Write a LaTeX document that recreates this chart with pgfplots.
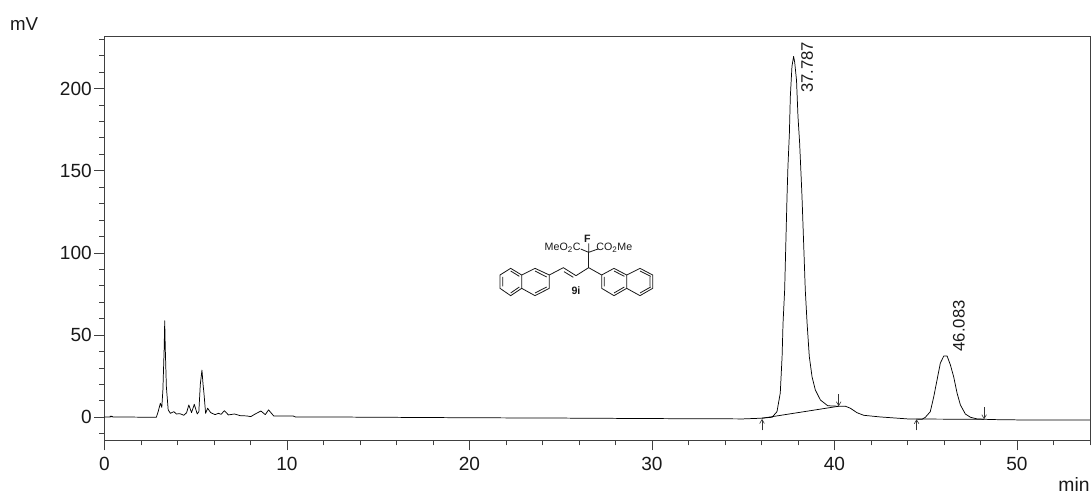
\documentclass[border=0pt]{standalone}
\usepackage{pgfplots}
\pgfplotsset{compat=1.18}
\usepackage{fontspec}
\setmainfont{Liberation Sans}
\usetikzlibrary{arrows.meta}
\begin{document}
\begin{tikzpicture}
\path[use as bounding box] (0,0) rectangle (819pt,372pt);
\begin{axis}[
  at={(78.375pt,41.8pt)},anchor=south west,
  scale only axis,width=739.1pt,height=303.2pt,
  xmin=0,xmax=54,ymin=-14,ymax=232,
  xtick={0,10,...,50},ytick={0,50,100,150,200},
  minor xtick={2,4,6,8,12,14,16,18,22,24,26,28,32,34,36,38,42,44,46,48,52,54},
  minor ytick={-10,10,20,30,40,60,70,80,90,110,120,130,140,160,170,180,190,210,220,230},
  tick align=outside,tick pos=left,
  major tick length=7.5pt,minor tick length=3.75pt,
  every tick/.style={black!75,line width=0.6pt},
  minor tick style={black!75,line width=0.6pt},
  axis line style={black!75,line width=0.7pt},
  ticklabel style={font=\fontsize{14.3}{16}\selectfont,text=black!90},
  /pgf/number format/assume math mode=true,
  xticklabel style={yshift=-1.5pt},
  yticklabel style={xshift=1.5pt},
  clip=false,
]
\addplot[black,line width=0.55pt,line join=round] coordinates {
(0,0.2)(0.3,0.2)(0.32,0.7)(0.36,0.2)(0.4,0.7)(0.45,0.2)(1.5,0.1)(2.84,0)(2.94,3.4)(3.06,8.5)(3.14,6)(3.2,16.6)(3.27,42)(3.3,58.7)(3.33,42)(3.39,18.6)(3.49,4.5)(3.61,2.4)(3.8,3.4)(3.94,2)(4.13,2.2)(4.35,1.2)(4.5,2.8)(4.62,7.5)(4.77,2.8)(4.92,7.9)(5.08,2)(5.17,3.4)(5.25,20)(5.34,28.7)(5.4,20)(5.45,14.6)(5.54,2.4)(5.65,5.5)(5.82,2.8)(6.06,1.6)(6.24,2.4)(6.39,1.8)(6.57,4)(6.79,1.4)(7.12,2)(7.43,1)(7.8,0.8)(8.02,0.4)(8.26,2)(8.57,3.8)(8.81,1.6)(8.99,4.5)(9.27,0.8)(10,0.8)(10.33,0.8)(10.46,0.2)(11.8,0.2)(15,0)(20,-0.3)(25,-0.5)(30,-0.8)(35,-1)(35.94,-0.6)(36.58,0)(36.85,3.4)(37.03,14.8)(37.13,37)(37.18,57)(37.27,77.5)(37.4,134.4)(37.45,152.6)(37.53,173)(37.58,195)(37.67,213.5)(37.76,219.6)(37.82,216)(37.92,205)(38.0,183)(38.09,167)(38.18,144.6)(38.22,134.4)(38.4,77.5)(38.5,57)(38.62,37)(38.77,24.7)(38.95,16.6)(39.23,10.5)(39.63,7)(40.23,6.7)(40.6,6.7)(40.87,5.5)(41.23,2.8)(41.6,1.2)(42.5,0.2)(44,-1)(44.8,-1.2)(44.98,0)(45.25,3.4)(45.44,12.5)(45.62,22.7)(45.8,32.9)(45.99,37.3)(46.17,37.3)(46.35,31.9)(46.53,24.7)(46.72,14.6)(46.9,7.5)(47.17,2)(47.45,0)(47.81,-1)(48.18,-1.2)(48.6,-1.4)(50,-1.6)(54,-1.6)};
\addplot[black,line width=0.55pt] coordinates {(36.03,-0.6)(40.23,6.7)};
\addplot[black,line width=0.55pt] coordinates {(44.5,-1.1)(48.18,-1.2)};
\addplot[black!80,line width=0.45pt,-{Straight Barb[length=3pt,width=3.5pt]}] coordinates {(36.03,-8)(36.03,-1)};
\addplot[black!80,line width=0.45pt,-{Straight Barb[length=3pt,width=3.5pt]}] coordinates {(40.23,14)(40.23,6.7)};
\addplot[black!80,line width=0.45pt,-{Straight Barb[length=3pt,width=3.5pt]}] coordinates {(44.5,-8)(44.5,-1.2)};
\addplot[black!80,line width=0.45pt,-{Straight Barb[length=3pt,width=3.5pt]}] coordinates {(48.2,6)(48.2,-1.2)};
\node[rotate=90,font=\fontsize{12.5}{14}\selectfont,inner sep=0pt,text=black!90] at (axis cs:38.5,213) {37.787};
\node[rotate=90,font=\fontsize{12.5}{14}\selectfont,inner sep=0pt,text=black!90] at (axis cs:46.82,55.6) {46.083};
\end{axis}
\node[font=\fontsize{14}{16}\selectfont,text=black!90] at (18pt,354pt) {mV};
\node[font=\fontsize{14.5}{16}\selectfont,text=black!90] at (805.5pt,9pt) {min};
\begin{scope}[shift={(367.5pt,203.25pt)},x=0.25pt,y=-0.25pt,line width=0.6pt,black!90]
\draw (30,150)--(62,130)--(95,150)--(95,190)--(62,212)--(30,190)--cycle;
\draw (95,150)--(135,130)--(178,150)--(178,190)--(135,212)--(95,190);
\draw (38,156)--(38,184) (62,138)--(88,154) (62,204)--(88,186);
\draw (135,138)--(170,156) (170,186)--(135,204);
\draw (178,150)--(220,128)--(258,152)--(296,128);
\draw (222,140)--(250,157);
\draw[line width=1.1pt] (296,128)--(296,82);
\draw (296,128)--(335,150);
\draw (335,150)--(372,130)--(410,150)--(410,190)--(372,212)--(335,190)--cycle;
\draw (410,150)--(450,130)--(488,150)--(488,190)--(450,212)--(410,190);
\draw (343,156)--(343,184) (372,204)--(403,186) (372,138)--(403,154);
\draw (480,156)--(480,184) (450,138)--(482,154) (450,204)--(482,186);
\draw (296,82)--(272,72) (296,82)--(324,72) (296,80)--(296,55);
\node[font=\fontsize{8}{9}\selectfont\bfseries,inner sep=0pt] at (292,42) {F};
\node[font=\fontsize{8}{9}\selectfont,inner sep=0pt] at (218,68) {MeO\textsubscript{2}C};
\node[font=\fontsize{8}{9}\selectfont,inner sep=0pt] at (373,68) {CO\textsubscript{2}Me};
\node[font=\fontsize{8}{9}\selectfont\bfseries,inner sep=0pt] at (258,197) {9i};
\end{scope}
\end{tikzpicture}
\end{document}
